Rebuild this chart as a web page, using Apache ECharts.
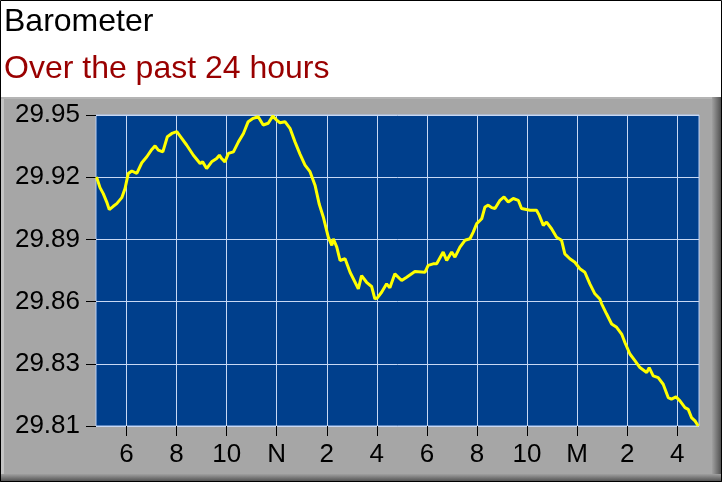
<!DOCTYPE html>
<html>
<head>
<meta charset="utf-8">
<script src="https://cdn.jsdelivr.net/npm/echarts@6/dist/echarts.min.js"></script>
<style>
html,body{margin:0;padding:0;background:#fff;}
#chart{width:722px;height:482px;}
</style>
</head>
<body>
<div id="chart"></div>
<script>
// Hours since midnight of the first day (24 = midnight "M")
const hours = [4.80,4.94,5.07,5.21,5.31,5.47,5.61,5.81,5.94,6.07,6.21,6.41,6.61,6.81,7.01,7.14,7.27,7.45,7.63,7.81,8.01,8.14,8.40,8.67,8.94,9.04,9.20,9.40,9.60,9.71,9.80,9.93,10.07,10.27,10.47,10.67,10.86,11.06,11.26,11.46,11.66,11.84,12.00,12.13,12.33,12.53,12.73,12.93,13.13,13.33,13.53,13.70,13.86,14.06,14.20,14.26,14.40,14.53,14.73,14.93,15.13,15.26,15.39,15.59,15.79,15.92,16.02,16.19,16.39,16.52,16.72,16.99,17.19,17.52,17.92,18.05,18.25,18.39,18.65,18.79,18.99,19.12,19.32,19.52,19.72,19.85,19.99,20.19,20.32,20.45,20.59,20.72,20.92,21.08,21.25,21.45,21.65,21.78,22.12,22.38,22.49,22.65,22.78,22.98,23.18,23.38,23.51,23.71,23.91,24.11,24.31,24.51,24.71,24.91,24.98,25.18,25.38,25.58,25.78,25.91,26.11,26.31,26.51,26.78,26.88,27.04,27.24,27.44,27.64,27.77,27.95,28.11,28.31,28.44,28.57,28.71,28.84];
const pressure = [29.9221,29.9173,29.9146,29.9108,29.9074,29.9089,29.9101,29.9128,29.9169,29.9237,29.9248,29.9237,29.9285,29.9312,29.9345,29.9361,29.9342,29.9334,29.9402,29.9417,29.9425,29.9405,29.9365,29.9319,29.9282,29.9289,29.9259,29.9289,29.9304,29.9319,29.9304,29.9289,29.9327,29.9334,29.9379,29.9417,29.9470,29.9485,29.9492,29.9455,29.9463,29.9495,29.9477,29.9465,29.9470,29.9440,29.9379,29.9324,29.9274,29.9245,29.9184,29.9098,29.9041,29.8950,29.8913,29.8943,29.8905,29.8845,29.8853,29.8792,29.8747,29.8717,29.8777,29.8747,29.8728,29.8672,29.8677,29.8702,29.8740,29.8722,29.8785,29.8755,29.8770,29.8795,29.8792,29.8823,29.8830,29.8830,29.8883,29.8845,29.8883,29.8860,29.8905,29.8936,29.8943,29.8973,29.9011,29.9033,29.9086,29.9094,29.9083,29.9079,29.9116,29.9131,29.9108,29.9124,29.9116,29.9079,29.9071,29.9071,29.9048,29.9003,29.9018,29.8988,29.8950,29.8936,29.8875,29.8853,29.8837,29.8808,29.8792,29.8740,29.8695,29.8672,29.8650,29.8604,29.8559,29.8544,29.8514,29.8476,29.8424,29.8394,29.8363,29.8341,29.8363,29.8326,29.8318,29.8288,29.8228,29.8221,29.8231,29.8213,29.8183,29.8175,29.8138,29.8123,29.8100];
const xTickHours = [6,8,10,12,14,16,18,20,22,24,26,28];
const xTickLabels = ['6','8','10','N','2','4','6','8','10','M','2','4'];
const yMin = 29.81, yMax = 29.95, yStep = 0.028;
const xMin = 4.78, xMax = 28.87;

const W = 722, H = 482;
const chart = echarts.init(document.getElementById('chart'), null, {renderer:'canvas', width:W, height:H});
const font = '"Liberation Sans", Arial, sans-serif';

const option = {
  animation: false,
  backgroundColor: '#ffffff',
  graphic: [
    {type:'rect', z:-10, silent:true, shape:{x:0,y:97,width:W,height:H-97}, style:{fill:'#a6a6a6'}},
    {type:'rect', z:-9, silent:true, shape:{x:0,y:97,width:4,height:H-97}, style:{fill:'#c4c4c4'}},
    {type:'rect', z:-9, silent:true, shape:{x:0,y:97,width:W,height:2}, style:{fill:'#b4b4b4'}},
    {type:'rect', z:-9, silent:true, shape:{x:W-10,y:97,width:10,height:H-97}, style:{fill:{type:'linear',x:0,y:0,x2:1,y2:0,colorStops:[{offset:0,color:'#a0a0a0'},{offset:1,color:'#4a4a4a'}]}}},
    {type:'rect', z:-9, silent:true, shape:{x:0,y:H-8,width:W,height:8}, style:{fill:{type:'linear',x:0,y:0,x2:0,y2:1,colorStops:[{offset:0,color:'#a0a0a0'},{offset:1,color:'#4a4a4a'}]}}},
    {type:'rect', z:100, silent:true, shape:{x:0.5,y:0.5,width:W-1,height:H-1}, style:{fill:null, stroke:'#000', lineWidth:1}}
  ],
  title: [
    {text:'Barometer', left:4, top:6, padding:0, textStyle:{fontFamily:font, fontSize:32, fontWeight:'normal', color:'#000'}},
    {text:'Over the past 24 hours', left:4, top:53, padding:0, textStyle:{fontFamily:font, fontSize:32, fontWeight:'normal', color:'#990000'}}
  ],
  grid: {left:96, right:23, top:115, bottom:56, show:true, backgroundColor:'#003f8c', borderColor:'#b8cff5', borderWidth:1},
  xAxis: {
    type:'value', min:xMin, max:xMax,
    axisLine:{show:false},
    axisTick:{show:true, length:10, lineStyle:{color:'#000', width:1}, customValues:xTickHours},
    axisLabel:{fontFamily:font, fontSize:26, color:'#000', margin:16, customValues:xTickHours,
      formatter:function(v){ const i = xTickHours.indexOf(Math.round(v)); return i>=0 ? xTickLabels[i] : ''; }},
    splitLine:{show:true, lineStyle:{color:'#c8d8f4', width:1}, customValues:xTickHours}
  },
  yAxis: {
    type:'value', min:yMin, max:yMax, interval:yStep,
    axisLine:{show:false},
    axisTick:{show:true, length:10, lineStyle:{color:'#000', width:1}},
    axisLabel:{fontFamily:font, fontSize:26, color:'#000', margin:16,
      formatter:function(v){ return (Math.floor(v*100+1e-6)/100).toFixed(2); }},
    splitLine:{show:true, lineStyle:{color:'#c8d8f4', width:1}}
  },
  series: [{
    type:'line', showSymbol:false, symbol:'none',
    data: hours.map((h,i)=>[h, pressure[i]]),
    lineStyle:{color:'#ffff00', width:3},
    clip:true
  }]
};
chart.setOption(option);
</script>
</body>
</html>
